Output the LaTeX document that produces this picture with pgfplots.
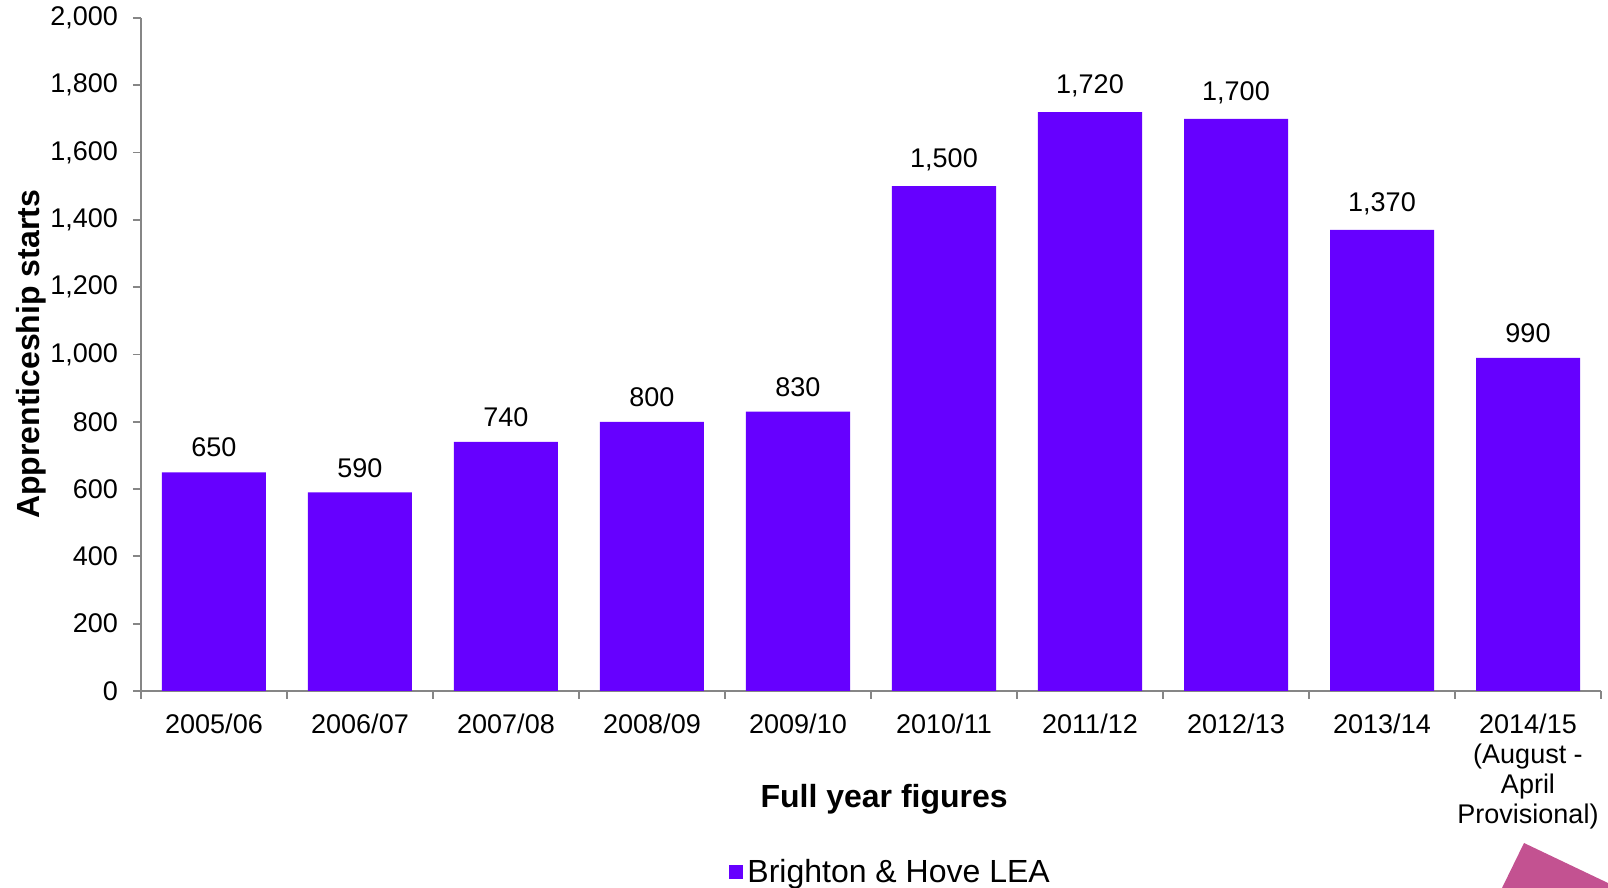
\documentclass[border=0pt]{standalone}
\usepackage{pgfplots}
\pgfplotsset{compat=1.18}
\usepackage{fontspec}
\setmainfont{Liberation Sans}
\definecolor{barpurple}{RGB}{102,0,255}
\definecolor{axgray}{RGB}{134,134,134}
\definecolor{pinkdeco}{RGB}{195,82,145}
\begin{document}
\begin{tikzpicture}
\begin{axis}[
  at={(0pt,0pt)}, anchor=south west,
  scale only axis,
  width=730pt, height=336.5pt,
  ymin=0, ymax=2000,
  xmin=-0.5, xmax=9.5,
  ytick={0,200,...,2000},
  xtick={0,...,9},
  xticklabels={2005/06,2006/07,2007/08,2008/09,2009/10,2010/11,2011/12,2012/13,2013/14,{2014/15\\(August -\\April\\Provisional)}},
  minor xtick={-0.5,0.5,...,9.5},
  major x tick style={draw=none},
  minor tick length=4pt,
  major tick length=4pt,
  tick align=outside,
  axis x line*=bottom,
  axis y line*=left,
  axis line style={axgray, line width=0.9pt},
  every tick/.style={axgray, line width=0.9pt},
  minor x tick style={axgray, line width=0.9pt},
  ytick pos=left,
  /pgf/number format/.cd, 1000 sep={,}, assume math mode=true,
  /pgfplots/.cd,
  tick label style={font=\fontsize{13.5}{15}\selectfont, text=black},
  xticklabel style={align=center, anchor=north, yshift=-4pt},
  yticklabel style={xshift=-4pt},
  ylabel={Apprenticeship starts},
  ylabel style={font=\fontsize{16}{19}\bfseries\selectfont, at={(axis description cs:-0.0753,0.5)}, anchor=center, rotate=0},
  xlabel={Full year figures},
  xlabel style={font=\fontsize{16}{19}\bfseries\selectfont, at={(axis description cs:0.509,0)}, anchor=center, yshift=-54pt},
  ybar, bar width=52pt,
  nodes near coords,
  every node near coord/.append style={font=\fontsize{13.5}{15}\selectfont, text=black, yshift=4pt, /pgf/number format/.cd, 1000 sep={,}, assume math mode=true},
  legend style={draw=none, font=\fontsize{16}{19}\selectfont, at={(axis description cs:0.514,0)}, anchor=center, yshift=-90.5pt, inner sep=0pt},
  legend image code/.code={\fill[barpurple] (-1pt,-3.6pt) rectangle (6.2pt,3.6pt);},
]
\addplot[fill=barpurple, draw=none] coordinates {(0,650) (1,590) (2,740) (3,800) (4,830) (5,1500) (6,1720) (7,1700) (8,1370) (9,990)};
\addlegendentry{Brighton \& Hove LEA}
\end{axis}
\fill[pinkdeco] (691.5pt,-76pt) -- (733.5pt,-96pt) -- (733.5pt,-98.5pt) -- (680.5pt,-98.5pt) -- cycle;
\pgfresetboundingbox
\path[use as bounding box] (-70.5pt,-98.5pt) rectangle (733.5pt,345.5pt);
\end{tikzpicture}
\end{document}
